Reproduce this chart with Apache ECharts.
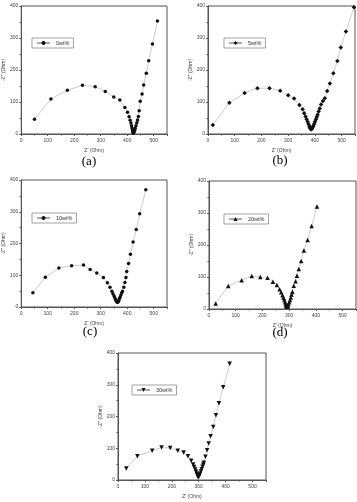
<!DOCTYPE html>
<html lang="en">
<head>
    <meta charset="utf-8">
    <title>Nyquist plots</title>
    <script src="https://cdn.jsdelivr.net/npm/echarts@6/dist/echarts.min.js"></script>
    <style type="text/css">
        html, body { height: 100%; margin: 0; background: #fff; }
    </style>
</head>
<body>
    <div id="main" style="width:357px;height:502px;"></div>
    <script type="text/javascript">
        // Z' , -Z'' pairs (Ohm)
        var wt0 = [[50,46],[112,109],[174,137],[231,152],[279,148],[317,133],[349,116],[372,106],[391,83],[401,68],[407,54],[411,43],[414,34],[416,26],[418,19],[420,13],[421,8],[422,5],[423,3],[424,4],[426,7],[428,12],[430,18],[433,26],[436,35],[439,44],[442,55],[445,73],[449,102],[456,125],[462,153],[472,190],[481,229],[495,281],[514,353]];
        var wt5 = [[18,28],[80,98],[137,128],[185,143],[230,143],[270,135],[300,121],[322,111],[342,91],[354,77],[360,65],[365,55],[369,46],[373,38],[376,31],[379,25],[381,20],[383,17],[385,15],[387,15],[389,17],[391,20],[394,25],[397,31],[400,38],[404,46],[407,53],[410,60],[414,70],[418,80],[423,92],[430,103],[437,112],[446,134],[456,158],[469,190],[484,228],[497,270],[516,320],[546,396]];
        var wt10 = [[44,45],[91,94],[142,123],[190,130],[235,132],[260,118],[285,107],[310,93],[325,76],[335,62],[342,50],[346,42],[350,35],[353,29],[356,24],[358,20],[360,17],[362,15],[364,15],[366,17],[368,20],[370,25],[373,31],[376,38],[379,44],[382,50],[387,62],[391,77],[395,93],[398,112],[405,137],[412,166],[422,205],[434,244],[447,294],[470,369]];
        var wt20 = [[25,17],[72,72],[122,90],[160,103],[192,100],[219,98],[239,85],[254,75],[264,62],[270,52],[275,43],[279,35],[282,28],[285,21],[287,15],[289,10],[291,7],[293,7],[295,10],[297,15],[300,21],[303,28],[306,36],[309,45],[312,54],[317,73],[324,87],[329,104],[336,125],[345,150],[355,183],[369,216],[384,259],[404,320]];
        var wt30 = [[31,36],[72,75],[127,92],[162,102],[194,101],[222,92],[244,87],[260,75],[272,61],[279,49],[283,41],[287,33],[290,26],[293,20],[295,15],[297,11],[298,9],[300,10],[302,14],[305,20],[308,27],[311,34],[314,42],[317,48],[319,54],[325,73],[331,94],[337,115],[344,138],[354,167],[364,204],[375,242],[391,292],[415,366]];

        var sampleNames = ['0wt%', '5wt%', '10wt%', '20wt%', '30wt%'];
        var panelLabels = ['(a)', '(b)', '(c)', '(d)'];

        var samples = [wt0, wt5, wt10, wt20, wt30];
        var symbols = ['circle', 'diamond', 'circle', 'triangle', 'path://M0,0 L10,0 L5,9 Z'];
        var symbolSizes = [3.5, 4.5, 3.5, 4.5, 4.5];

        // plot boxes
        var grids = [
            { left: 20, top: 6, width: 147, height: 128 },
            { left: 208, top: 6, width: 147, height: 128 },
            { left: 21, top: 180, width: 146, height: 127 },
            { left: 209, top: 181, width: 147, height: 128 },
            { left: 118, top: 353, width: 148, height: 127 }
        ];
        var legendPos = [
            { left: 32, top: 38 },
            { left: 224, top: 38 },
            { left: 32, top: 213 },
            { left: 224, top: 214 },
            { left: 132, top: 385 }
        ];
        var labelPos = [[89, 162], [280, 161], [90, 332], [280, 333]];

        var myChart = echarts.init(document.getElementById('main'), null, { renderer: 'canvas' });

        var option = {
            animation: false,
            backgroundColor: '#fff',
            grid: [],
            xAxis: [],
            yAxis: [],
            legend: [],
            series: [],
            graphic: []
        };

        var tickFont = { fontSize: 5, color: '#444', fontFamily: 'Liberation Sans' };

        for (var i = 0; i < samples.length; i++) {
            option.grid.push(Object.assign({ show: true, borderColor: '#555', borderWidth: 1 }, grids[i]));
            option.xAxis.push({
                gridIndex: i,
                type: 'value',
                min: 0, max: 550, interval: 100,
                name: "Z' (Ohm)",
                nameLocation: 'middle',
                nameGap: 14,
                nameTextStyle: tickFont,
                axisLine: { show: true, lineStyle: { color: '#555', width: 1 } },
                axisTick: { show: true, length: 2, lineStyle: { color: '#555' } },
                minorTick: { show: true, splitNumber: 2, length: 1.5, lineStyle: { color: '#555' } },
                axisLabel: Object.assign({ margin: 4, showMaxLabel: false }, tickFont),
                splitLine: { show: false }
            });
            option.yAxis.push({
                gridIndex: i,
                type: 'value',
                min: 0, max: 400, interval: 100,
                name: "-Z'' (Ohm)",
                nameLocation: 'middle',
                nameGap: 12,
                nameTextStyle: tickFont,
                axisLine: { show: true, lineStyle: { color: '#555', width: 1 } },
                axisTick: { show: true, length: 2, lineStyle: { color: '#555' } },
                minorTick: { show: true, splitNumber: 2, length: 1.5, lineStyle: { color: '#555' } },
                axisLabel: Object.assign({ margin: 3 }, tickFont),
                splitLine: { show: false }
            });
            option.legend.push(Object.assign({
                data: [sampleNames[i]],
                orient: 'horizontal',
                borderColor: '#666',
                borderWidth: 0.6,
                borderRadius: 0,
                padding: [2, 4],
                itemWidth: 13,
                itemHeight: 5,
                itemGap: 2,
                selectedMode: false,
                textStyle: { fontSize: 5.5, color: '#333', fontFamily: 'Liberation Sans', padding: [0, 0, 0, 1] }
            }, legendPos[i]));
            option.series.push({
                name: sampleNames[i],
                type: 'line',
                xAxisIndex: i,
                yAxisIndex: i,
                data: samples[i],
                symbol: symbols[i],
                symbolSize: symbolSizes[i],
                showSymbol: true,
                smooth: false,
                itemStyle: { color: '#111' },
                lineStyle: { color: '#aaa', width: 0.6 },
                emphasis: { disabled: true }
            });
        }

        for (var k = 0; k < panelLabels.length; k++) {
            option.graphic.push({
                type: 'text',
                x: labelPos[k][0],
                y: labelPos[k][1],
                style: {
                    text: panelLabels[k],
                    fontSize: 13,
                    fontFamily: 'Liberation Serif',
                    fill: '#000',
                    align: 'center',
                    verticalAlign: 'middle'
                }
            });
        }

        myChart.setOption(option);
    </script>
</body>
</html>
